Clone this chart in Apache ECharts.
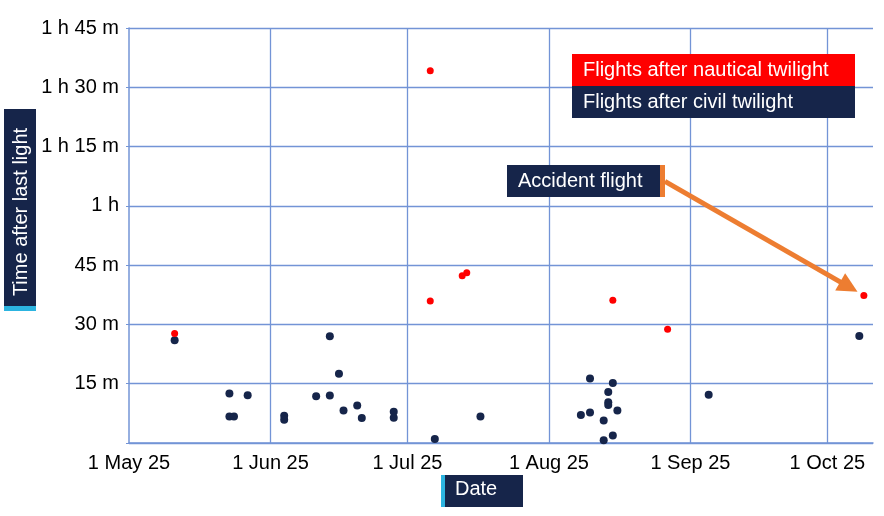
<!DOCTYPE html>
<html>
<head>
<meta charset="utf-8">
<title>Time after last light</title>
<script src="https://cdn.jsdelivr.net/npm/echarts@6/dist/echarts.min.js"></script>
<style>
html,body{margin:0;padding:0;background:#fff;}
#main{width:884px;height:516px;}
</style>
</head>
<body>
<div id="main"></div>
<script>
/* flights after civil twilight (navy) */
var civilDates = ['2025-05-11','2025-05-23','2025-05-27','2025-05-23','2025-05-24',
	'2025-06-04','2025-06-04','2025-06-11','2025-06-14','2025-06-14','2025-06-16',
	'2025-06-17','2025-06-20','2025-06-21','2025-06-28','2025-06-28',
	'2025-07-07','2025-07-17',
	'2025-08-08','2025-08-10','2025-08-10','2025-08-13','2025-08-13','2025-08-14',
	'2025-08-14','2025-08-14','2025-08-15','2025-08-15','2025-08-16',
	'2025-09-05','2025-10-08'];
var civilMinutes = [26.0,12.5,12.1,6.7,6.7,
	6.9,5.9,11.8,27.0,12.0,17.5,
	8.2,9.5,6.3,7.9,6.4,
	1.0,6.7,
	7.1,16.3,7.7,5.7,0.7,12.9,
	10.3,9.6,15.2,1.9,8.2,
	12.2,27.1];

/* flights after nautical twilight (red) */
var nauticalDates = ['2025-05-11','2025-07-06','2025-07-06','2025-07-13','2025-07-14',
	'2025-08-15','2025-08-27','2025-10-09'];
var nauticalMinutes = [27.7,94.2,35.9,42.3,43.1,36.1,28.8,37.3];

/* x ticks (month starts) and y ticks (minutes) */
var monthTicks = ['2025-05-01','2025-06-01','2025-07-01','2025-08-01','2025-09-01','2025-10-01'];
var yTicks = [0,15,30,45,60,75,90,105];
var monthNames = ['Jan','Feb','Mar','Apr','May','Jun','Jul','Aug','Sep','Oct','Nov','Dec'];

var NAVY = '#16254a';
var RED = '#ff0000';
var GRID = '#7394d6';
var CYAN = '#2cb4e0';
var ORANGE = '#ed7d31';
var FONT = 'Liberation Sans, Arial, sans-serif';

function toPairs(dates, values){
	var out = [];
	for (var i = 0; i < dates.length; i++) {
		out.push([dates[i], values[i]]);
	}
	return out;
}

/**
 * minutes -> "1 h 15 m"
 */
function fmtMinutes(v){
	if (v === 0) return '';
	var h = Math.floor(v / 60), m = v % 60;
	if (h && m) return h + ' h ' + m + ' m';
	if (h) return h + ' h';
	return m + ' m';
}

function fmtDate(v){
	var d = new Date(v);
	return d.getDate() + ' ' + monthNames[d.getMonth()] + ' ' + String(d.getFullYear()).slice(2);
}

function labelBox(x, y, w, h, color, text){
	return {
		type: 'group', left: x, top: y, z: 100,
		children: [
			{type: 'rect', z: 100, shape: {x: 0, y: 0, width: w, height: h}, style: {fill: color}},
			{type: 'text', z: 101, x: 11, y: h / 2, style: {text: text, fill: '#fff', font: '20px ' + FONT, verticalAlign: 'middle'}}
		]
	};
}

var chart = echarts.init(document.getElementById('main'));

// arrow from the "Accident flight" note towards the accident point
var arrowStart = ['2025-08-26 10:00', 66.2];
var arrowEnd = ['2025-10-05 17:00', 39.5];

// vertical month lines (skip the first, that is the y axis itself)
var monthLines = [];
for (var i = 1; i < monthTicks.length; i++) {
	monthLines.push({xAxis: monthTicks[i]});
}

var option = {
	animation: false,
	grid: {left: 129, right: 11, top: 28, bottom: 73},
	xAxis: {
		type: 'time',
		min: monthTicks[0],
		max: '2025-10-11',
		minInterval: 28 * 86400000,
		maxInterval: 31 * 86400000,
		axisLine: {lineStyle: {color: GRID, width: 1.5}},
		axisTick: {show: false},
		splitLine: {show: false},
		axisLabel: {
			formatter: fmtDate,
			color: '#000', fontFamily: FONT, fontSize: 20, margin: 10,
			hideOverlap: false
		}
	},
	yAxis: {
		type: 'value',
		min: yTicks[0],
		max: yTicks[yTicks.length - 1],
		interval: 15,
		axisLine: {show: true, lineStyle: {color: GRID, width: 1.5}},
		axisTick: {show: true, length: 3, lineStyle: {color: GRID}},
		splitLine: {show: true, lineStyle: {color: GRID, width: 1.3}},
		axisLabel: {formatter: fmtMinutes, color: '#000', fontFamily: FONT, fontSize: 20, margin: 10}
	},
	series: [
		{
			// month grid lines only
			type: 'scatter',
			data: [],
			z: 1,
			markLine: {
				silent: true,
				symbol: ['none', 'none'],
				label: {show: false},
				lineStyle: {color: GRID, width: 1.3, type: 'solid'},
				data: monthLines
			}
		},
		{
			name: 'Flights after civil twilight',
			type: 'scatter',
			symbolSize: 8,
			itemStyle: {color: NAVY, opacity: 1},
			data: toPairs(civilDates, civilMinutes)
		},
		{
			name: 'Flights after nautical twilight',
			type: 'scatter',
			symbolSize: 7,
			itemStyle: {color: RED, opacity: 1},
			data: toPairs(nauticalDates, nauticalMinutes),
			markLine: {
				silent: true,
				symbol: ['none', 'triangle'],
				symbolSize: 20,
				label: {show: false},
				lineStyle: {color: ORANGE, width: 5, type: 'solid', opacity: 1},
				itemStyle: {color: ORANGE},
				data: [[{coord: arrowStart, symbol: 'none'}, {coord: arrowEnd, symbol: 'triangle'}]]
			}
		}
	],
	graphic: [
		// legend
		labelBox(572, 54, 283, 32, RED, 'Flights after nautical twilight'),
		labelBox(572, 86, 283, 32, NAVY, 'Flights after civil twilight'),
		// accident note
		labelBox(507, 165, 154, 32, NAVY, 'Accident flight'),
		{type: 'rect', z: 100, left: 660, top: 165, shape: {width: 5, height: 32}, style: {fill: ORANGE}},
		// y title
		{type: 'rect', z: 100, left: 4, top: 109, shape: {width: 32, height: 197}, style: {fill: NAVY}},
		{type: 'rect', z: 100, left: 4, top: 306, shape: {width: 32, height: 5}, style: {fill: CYAN}},
		{type: 'text', z: 101, x: 21, y: 212, rotation: Math.PI / 2,
			style: {text: 'Time after last light', fill: '#fff', font: '20px ' + FONT, align: 'center', verticalAlign: 'middle'}},
		// x title
		{type: 'rect', z: 100, left: 441, top: 475, shape: {width: 82, height: 32}, style: {fill: NAVY}},
		{type: 'rect', z: 100, left: 441, top: 475, shape: {width: 4, height: 32}, style: {fill: CYAN}},
		{type: 'text', z: 101, left: 455, top: 479, style: {text: 'Date', fill: '#fff', font: '20px ' + FONT}}
	]
};

chart.setOption(option);
</script>
</body>
</html>
